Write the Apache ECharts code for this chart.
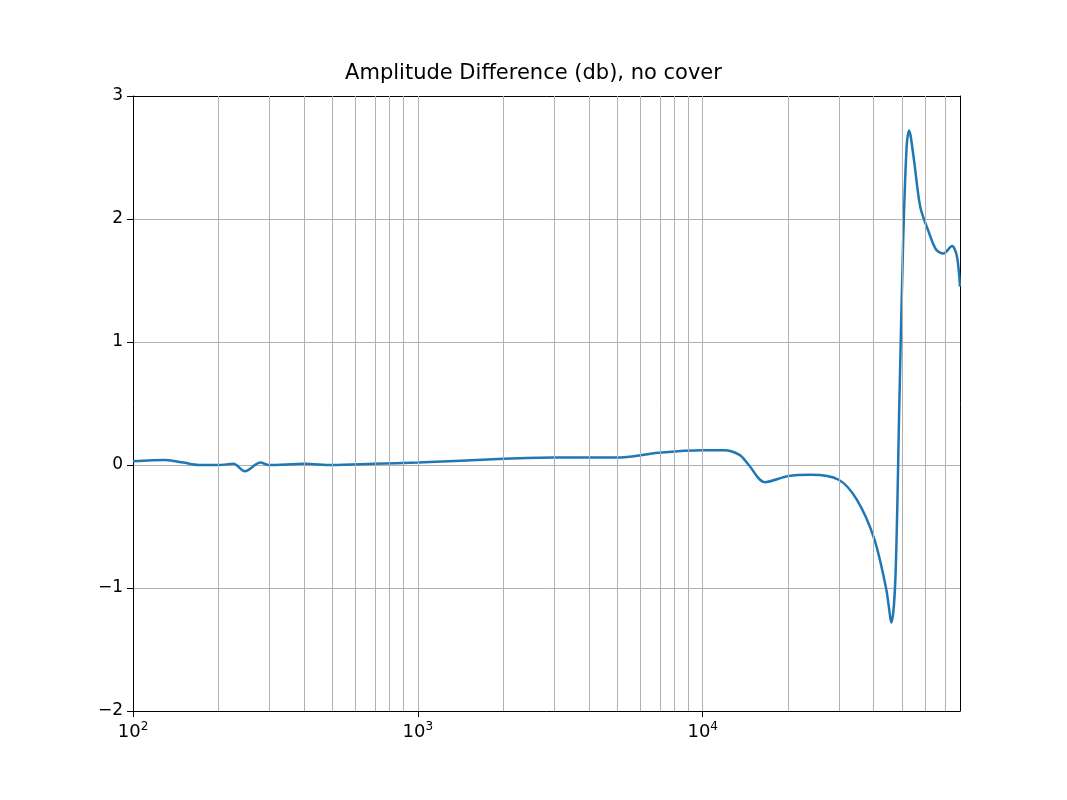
<!DOCTYPE html>
<html><head><meta charset="utf-8">
<script src="https://cdn.jsdelivr.net/npm/echarts@6/dist/echarts.min.js"></script>
<style>html,body{margin:0;background:#fff}#c{width:1067px;height:800px}</style>
</head><body><div id="c"></div>
<script>
const freqs = [100,130,150,170,200,225,247,280,300,400,500,700,1000,2000,3000,5000,7000,10000,11900,13500,14500,16500,20000,24000,30000,34700,40000,44000,46000,47500,49000,50500,52000,53000,55000,58000,62000,66000,70000,75000,78000,80000];
const values = [0.03,0.04,0.02,0.0,0.0,0.01,-0.05,0.02,0.0,0.01,0.0,0.01,0.02,0.05,0.06,0.06,0.1,0.12,0.12,0.08,0.0,-0.14,-0.09,-0.08,-0.12,-0.28,-0.6,-1.0,-1.28,-0.9,0.5,1.8,2.6,2.72,2.5,2.1,1.9,1.75,1.72,1.78,1.7,1.45];
const gridFreqs = [200,300,400,500,600,700,800,900,1000,2000,3000,4000,5000,6000,7000,8000,9000,10000,20000,30000,40000,50000,60000,70000];
const yTicks = [-2,-1,0,1,2,3];
const XMAX = Math.log10(80000);
const data = freqs.map((f,i)=>[Math.log10(f), values[i]]);
const chart = echarts.init(document.getElementById('c'));
const font = 'DejaVu Sans';
chart.setOption({
  animation:false,
  title:{text:'Amplitude Difference (db), no cover',left:'center',top:58,textStyle:{fontFamily:font,fontSize:21,fontWeight:'normal',color:'#000'}},
  grid:{left:133,right:107,top:96,bottom:89},
  xAxis:[{type:'value',min:2,max:XMAX,interval:1,
    axisLine:{onZero:false,lineStyle:{color:'#000'}},axisTick:{length:6,lineStyle:{color:'#000'}},
    splitLine:{lineStyle:{color:'#b0b0b0',width:1}},
    axisLabel:{showMaxLabel:false,margin:10,formatter:v=>'{b|10}{s|'+Math.round(v)+'}',
      rich:{b:{fontFamily:font,fontSize:18,color:'#000'},s:{fontFamily:font,fontSize:12,color:'#000',padding:[0,0,10,0]}}}},
    {type:'value',position:'top',min:2,max:XMAX,axisLine:{show:true,onZero:false,lineStyle:{color:'#000'}},axisTick:{show:false},axisLabel:{show:false},splitLine:{show:false}}],
  yAxis:[{type:'value',min:-2,max:3,interval:1,
    axisLine:{show:true,onZero:false,lineStyle:{color:'#000'}},axisTick:{show:true,length:6,lineStyle:{color:'#000'}},
    splitLine:{lineStyle:{color:'#b0b0b0',width:1}},
    axisLabel:{fontFamily:font,fontSize:17,color:'#000',margin:10,formatter:v=>String(v).replace('-','\u2212')}},
    {type:'value',position:'right',min:-2,max:3,axisLine:{show:true,onZero:false,lineStyle:{color:'#000'}},axisTick:{show:false},axisLabel:{show:false},splitLine:{show:false}}],
  series:[{type:'line',data:data,smooth:0.3,showSymbol:false,lineStyle:{color:'#1f77b4',width:2.5},z:3,
    markLine:{silent:true,symbol:'none',label:{show:false},lineStyle:{color:'#b0b0b0',width:1,type:'solid'},
      data:gridFreqs.map(f=>({xAxis:Math.log10(f)}))}}]
});
</script></body></html>
